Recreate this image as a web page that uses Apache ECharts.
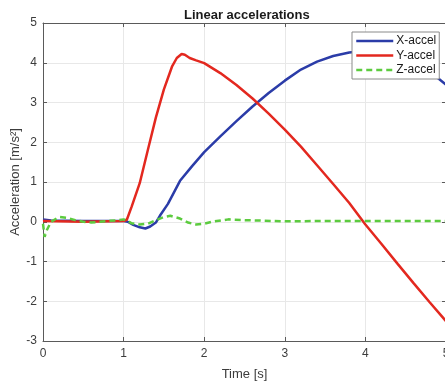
<!DOCTYPE html>
<html>
<head>
<meta charset="utf-8">
<script src="https://cdn.jsdelivr.net/npm/echarts@6/dist/echarts.min.js"></script>
<style>
  html, body { margin: 0; padding: 0; background: #fff; }
  #chart { width: 445px; height: 383px; }
</style>
</head>
<body>
<div id="chart"></div>
<script>
// time [s] and acceleration [m/s^2]
const timeX = [0, 0.1, 0.5, 1.0, 1.05, 1.12, 1.2, 1.27, 1.33, 1.4, 1.45, 1.55, 1.7, 1.85, 2.0, 2.2, 2.4, 2.6, 2.8, 3.0, 3.2, 3.4, 3.6, 3.8, 4.0, 4.2, 4.4, 4.6, 4.8, 5.0];
const accelX = [0.06, 0.03, 0.02, 0.02, 0.0, -0.08, -0.14, -0.17, -0.12, -0.02, 0.15, 0.45, 1.03, 1.4, 1.75, 2.15, 2.53, 2.9, 3.24, 3.55, 3.83, 4.03, 4.17, 4.26, 4.3, 4.27, 4.17, 4.0, 3.78, 3.45];

const timeY = [0, 0.5, 1.0, 1.04, 1.1, 1.2, 1.3, 1.4, 1.5, 1.6, 1.66, 1.72, 1.76, 1.82, 1.9, 2.0, 2.2, 2.4, 2.6, 2.8, 3.0, 3.2, 3.4, 3.6, 3.8, 4.0, 4.2, 4.4, 4.6, 4.8, 5.0];
const accelY = [0.02, 0.0, 0.02, 0.05, 0.38, 0.97, 1.8, 2.62, 3.33, 3.9, 4.12, 4.22, 4.2, 4.12, 4.06, 3.99, 3.74, 3.44, 3.1, 2.72, 2.32, 1.89, 1.42, 0.95, 0.47, -0.07, -0.56, -1.06, -1.55, -2.03, -2.5];

const timeZ = [0, 0.02, 0.05, 0.1, 0.2, 0.3, 0.4, 0.5, 0.6, 0.7, 0.8, 0.9, 1.0, 1.05, 1.1, 1.2, 1.3, 1.4, 1.5, 1.58, 1.7, 1.8, 1.9, 2.0, 2.1, 2.3, 2.5, 2.7, 3.0, 3.5, 4.0, 4.5, 5.0];
const accelZ = [-0.05, -0.38, -0.2, 0.0, 0.12, 0.1, 0.04, 0.0, -0.02, 0.0, 0.02, 0.03, 0.06, 0.02, -0.04, -0.07, -0.05, 0.04, 0.12, 0.15, 0.08, -0.02, -0.07, -0.05, 0.0, 0.06, 0.04, 0.03, 0.01, 0.02, 0.02, 0.02, 0.02];

const xTicks = [0, 1, 2, 3, 4, 5];
const yTicks = [-3, -2, -1, 0, 1, 2, 3, 4, 5];

const pairs = (t, v) => t.map((x, i) => [x, v[i]]);

const font = "'Liberation Sans', Arial, sans-serif";
const axisColor = '#5a5a5a';
const labelColor = '#3c3c3c';

const myChart = echarts.init(document.getElementById('chart'));

// top and right axes only draw the box and the inner ticks
const hiddenAxis = {
    axisLine: { show: true, onZero: false, lineStyle: { color: axisColor, width: 1 } },
    axisTick: { show: true, inside: true, length: 4, lineStyle: { color: axisColor } },
    axisLabel: { show: false },
    splitLine: { show: false }
};

myChart.setOption({
    animation: false,
    backgroundColor: '#fff',
    textStyle: { fontFamily: font },
    title: {
        text: 'Linear accelerations',
        left: 179,
        top: 4,
        textStyle: { fontSize: 13, fontWeight: 'bold', color: '#1a1a1a', fontFamily: font }
    },
    legend: {
        orient: 'vertical',
        left: 352,
        top: 32,
        itemWidth: 37,
        itemHeight: 12,
        itemGap: 2.5,
        padding: [3, 3, 3, 3],
        backgroundColor: '#fff',
        borderColor: '#8a8a8a',
        borderWidth: 1,
        borderRadius: 0,
        itemStyle: { opacity: 0 },
        lineStyle: { width: 2.5 },
        textStyle: { fontSize: 12, color: '#1a1a1a', fontFamily: font, padding: [0, 0, 0, -2] },
        data: ['X-accel', 'Y-accel', 'Z-accel']
    },
    grid: { left: 43, top: 23, width: 403, height: 318, outerBoundsMode: 'none', containLabel: false },
    xAxis: [{
        type: 'value',
        min: 0,
        max: 5,
        interval: 1,
        name: 'Time [s]',
        nameLocation: 'middle',
        nameGap: 27,
        nameMoveOverlap: false,
        nameTextStyle: { fontSize: 13, color: labelColor },
        axisLine: { onZero: false, lineStyle: { color: axisColor } },
        axisTick: { inside: true, length: 4, lineStyle: { color: axisColor } },
        axisLabel: { fontSize: 12, color: labelColor, margin: 7,
            formatter: v => xTicks.includes(v) ? String(v) : '' },
        splitLine: { show: true, lineStyle: { color: '#e8e8e8' } }
    }, Object.assign({ type: 'value', position: 'top', min: 0, max: 5, interval: 1 }, hiddenAxis)],
    yAxis: [{
        type: 'value',
        min: -3,
        max: 5,
        interval: 1,
        name: 'Acceleration [m/s²]',
        nameLocation: 'middle',
        nameGap: 21,
        nameMoveOverlap: false,
        nameTextStyle: { fontSize: 13, color: labelColor },
        axisLine: { show: true, onZero: false, lineStyle: { color: axisColor } },
        axisTick: { show: true, inside: true, length: 4, lineStyle: { color: axisColor } },
        axisLabel: { fontSize: 12, color: labelColor, margin: 6,
            formatter: v => yTicks.includes(v) ? String(v) : '' },
        splitLine: { show: true, lineStyle: { color: '#e8e8e8' } }
    }, Object.assign({ type: 'value', position: 'right', min: -3, max: 5, interval: 1 }, hiddenAxis)],
    series: [
        {
            name: 'X-accel',
            type: 'line',
            data: pairs(timeX, accelX),
            symbol: 'none',
            z: 3,
            lineStyle: { color: '#2b3ca8', width: 2.5 },
            itemStyle: { color: '#2b3ca8' }
        },
        {
            name: 'Y-accel',
            type: 'line',
            data: pairs(timeY, accelY),
            symbol: 'none',
            z: 4,
            lineStyle: { color: '#e3281f', width: 2.5 },
            itemStyle: { color: '#e3281f' }
        },
        {
            name: 'Z-accel',
            type: 'line',
            data: pairs(timeZ, accelZ),
            symbol: 'none',
            z: 5,
            lineStyle: { color: '#5ccb3f', width: 2.5, type: [6, 4] },
            itemStyle: { color: '#5ccb3f' }
        }
    ]
});
</script>
</body>
</html>
